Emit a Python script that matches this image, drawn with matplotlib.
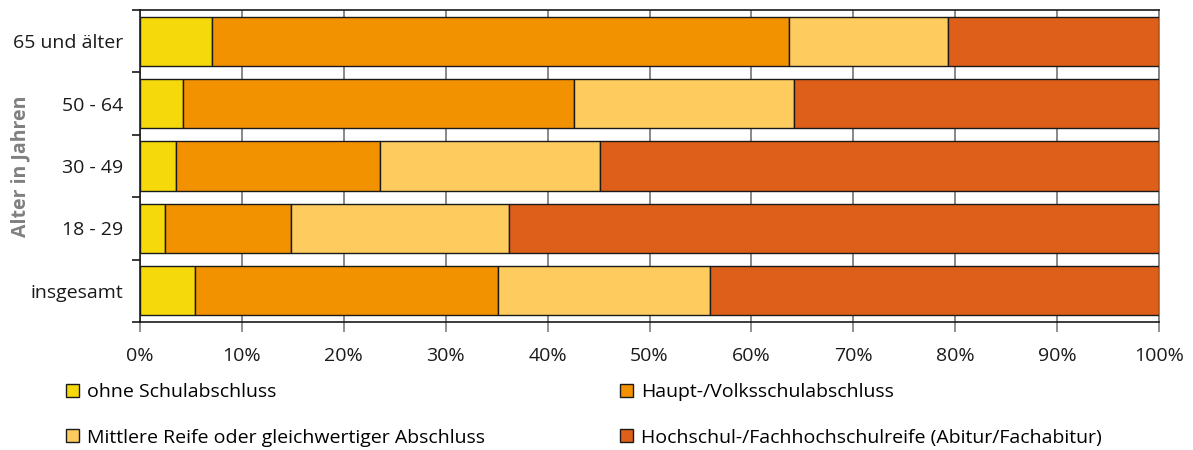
import matplotlib
matplotlib.use("Agg")
import matplotlib.pyplot as plt
import numpy as np

categories = ["65 und älter", "50 - 64", "30 - 49", "18 - 29", "insgesamt"]
series_names = ["ohne Schulabschluss", "Haupt-/Volksschulabschluss",
                "Mittlere Reife oder gleichwertiger Abschluss",
                "Hochschul-/Fachhochschulreife (Abitur/Fachabitur)"]
ohne = [7.1, 4.2, 3.5, 2.5, 5.4]
haupt = [56.6, 38.4, 20.1, 12.3, 29.7]
mittlere = [15.6, 21.6, 21.5, 21.4, 20.8]
hochschul = [20.7, 35.8, 54.9, 63.8, 44.1]
colors = ["#F5D90A", "#F39200", "#FECB5E", "#DD5F19"]
xticks = [0, 10, 20, 30, 40, 50, 60, 70, 80, 90, 100]

plt.rcParams['font.family'] = ['Open Sans', 'DejaVu Sans']

fig = plt.figure(figsize=(11.93, 4.5), dpi=100)
ax = fig.add_axes([140/1193, 1-322/450, (1159-140)/1193, (322-10)/450])

y = np.arange(len(categories))[::-1]
left = np.zeros(len(categories))
bars = []
for vals, col, name in zip([ohne, haupt, mittlere, hochschul], colors, series_names):
    b = ax.barh(y, vals, left=left, height=0.79, color=col, edgecolor="#1a1a1a",
                linewidth=1.0, label=name, zorder=3)
    bars.append(b)
    left = left + np.array(vals)

ax.set_xlim(0, 100)
ax.set_ylim(-0.5, len(categories) - 0.5)
ax.set_xticks(xticks)
ax.set_xticklabels([f"{v}%" for v in xticks], fontsize=14, color="#1a1a1a")
ax.set_yticks(y)
ax.set_yticklabels(categories, fontsize=14, color="#1a1a1a")
ax.set_yticks(np.arange(-0.5, len(categories), 1.0), minor=True)
ax.tick_params(axis='y', which='major', length=0, pad=12)
ax.tick_params(axis='y', which='minor', length=6, width=1.2, color="#1a1a1a", direction='out')
ax.tick_params(axis='x', which='major', length=7, width=1.2, color="#7f7f7f", direction='out', pad=11)
ax.grid(axis='x', color="#7f7f7f", linewidth=1.3, zorder=0)
ax.set_axisbelow(True)
for s in ['left', 'top', 'bottom']:
    ax.spines[s].set_color("#1a1a1a")
    ax.spines[s].set_linewidth(1.2)
ax.spines['right'].set_color("#7f7f7f")
ax.spines['right'].set_linewidth(1.3)

fig.text(20/1193, 1-166/450, "Alter in Jahren", rotation=90, ha='center', va='center',
         fontsize=14, fontweight='bold', color="#808080")

leg_kw = dict(frameon=False, fontsize=14, handlelength=0.65, handleheight=0.65,
              handletextpad=0.45, labelspacing=1.42, borderpad=0, borderaxespad=0)
leg1 = fig.legend([bars[0], bars[2]], [series_names[0], series_names[2]],
                  loc='upper left', bbox_to_anchor=(66/1193, 1-383/450), **leg_kw)
leg2 = fig.legend([bars[1], bars[3]], [series_names[1], series_names[3]],
                  loc='upper left', bbox_to_anchor=(620/1193, 1-383/450), **leg_kw)

fig.savefig("out.png", dpi=100)
